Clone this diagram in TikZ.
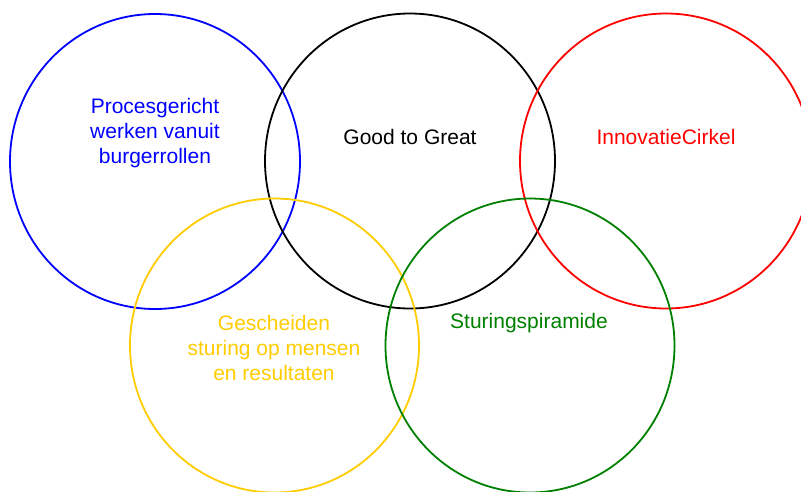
\documentclass[tikz,border=0pt]{standalone}
\usepackage{fontspec}
\setmainfont{Liberation Sans}
\usepackage{xcolor}
\usepackage{tikz}
\usetikzlibrary{shapes}
\definecolor{ringgold}{rgb}{1.0, 0.8, 0.0}
\definecolor{ringgreen}{rgb}{0.0, 0.5, 0.0}
\begin{document}
\begin{tikzpicture}[x=1pt,y=-1pt,font=\fontsize{21}{25}\selectfont]
            \useasboundingbox (0,0) rectangle (801,491);
            \node[draw=blue,ellipse,line width=1.8pt,minimum width=290pt,minimum height=295pt] (1) at (155,161.5) {};
            \node[draw=black,ellipse,line width=1.8pt,minimum width=290pt,minimum height=295pt] (2) at (410,161) {};
            \node[draw=red,ellipse,line width=1.8pt,minimum width=292pt,minimum height=295pt] (3) at (666,161) {};
            \node[draw=ringgold,ellipse,line width=1.8pt,minimum width=289pt,minimum height=294pt] (4) at (274.5,345.5) {};
            \node[draw=ringgreen,ellipse,line width=1.8pt,minimum width=289pt,minimum height=294pt] (5) at (530,345.5) {};
            \node[color=blue,align=center] (6) at (155,133) {Procesgericht\\werken vanuit\\burgerrollen};
            \node[color=black] (7) at (410,137) {Good to Great};
            \node[color=red] (8) at (666,137) {InnovatieCirkel};
            \node[color=ringgold,align=center] (9) at (274,348) {Gescheiden\\sturing op mensen\\en resultaten};
            \node[color=ringgreen] (10) at (529,323) {Sturingspiramide};
        \end{tikzpicture}
\end{document}
